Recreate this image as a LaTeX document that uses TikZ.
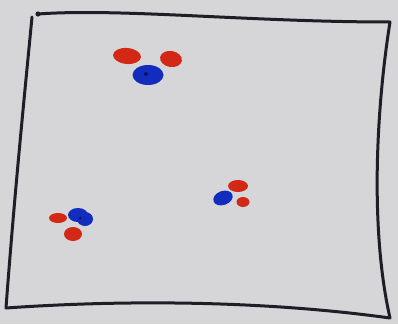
\documentclass[tikz,border=0pt]{standalone}
\definecolor{paper}{RGB}{214,214,216}
\definecolor{ink}{RGB}{30,30,38}
\definecolor{redink}{RGB}{212,40,22}
\definecolor{blueink}{RGB}{18,44,190}
\definecolor{bluecore}{RGB}{10,20,90}
\tikzset{
  atomO/.style={fill=redink},
  atomN/.style={fill=blueink}
}
\begin{document}
\begin{tikzpicture}[x=1pt,y=-1pt]
\fill[paper] (0,0) rectangle (398,324);
\useasboundingbox (0,0) rectangle (398,324);
\draw[ink,line width=3pt,line cap=round,line join=round]
  (38,14) .. controls (120,8) and (250,22) .. (390,22)
  .. controls (376,110) and (370,230) .. (390,318)
  .. controls (260,300) and (120,300) .. (6,308)
  .. controls (14,200) and (24,100) .. (32,17);
\fill[ink] (38,14) circle (2.6);
\fill[atomO,rotate around={-5:(127,56)}] (127,56) ellipse (14 and 8);
\fill[atomO,rotate around={-10:(171,59)}] (171,59) ellipse (11 and 8);
\fill[atomN] (148,75) ellipse (15.5 and 10);
\fill[bluecore] (146,74) circle (2);
\fill[atomO] (238,186) ellipse (10 and 6);
\fill[atomN,rotate around={20:(223,198)}] (223,198) ellipse (10 and 7);
\fill[atomO] (243,202) ellipse (6.5 and 5);
\fill[atomO] (58,218) ellipse (9 and 5);
\fill[atomN] (78,215) ellipse (10 and 7);
\fill[atomN] (85,219) ellipse (8 and 7);
\fill[bluecore] (80,218) circle (1.5);
\fill[atomO] (73,234) ellipse (9 and 7);
\end{tikzpicture}
\end{document}
